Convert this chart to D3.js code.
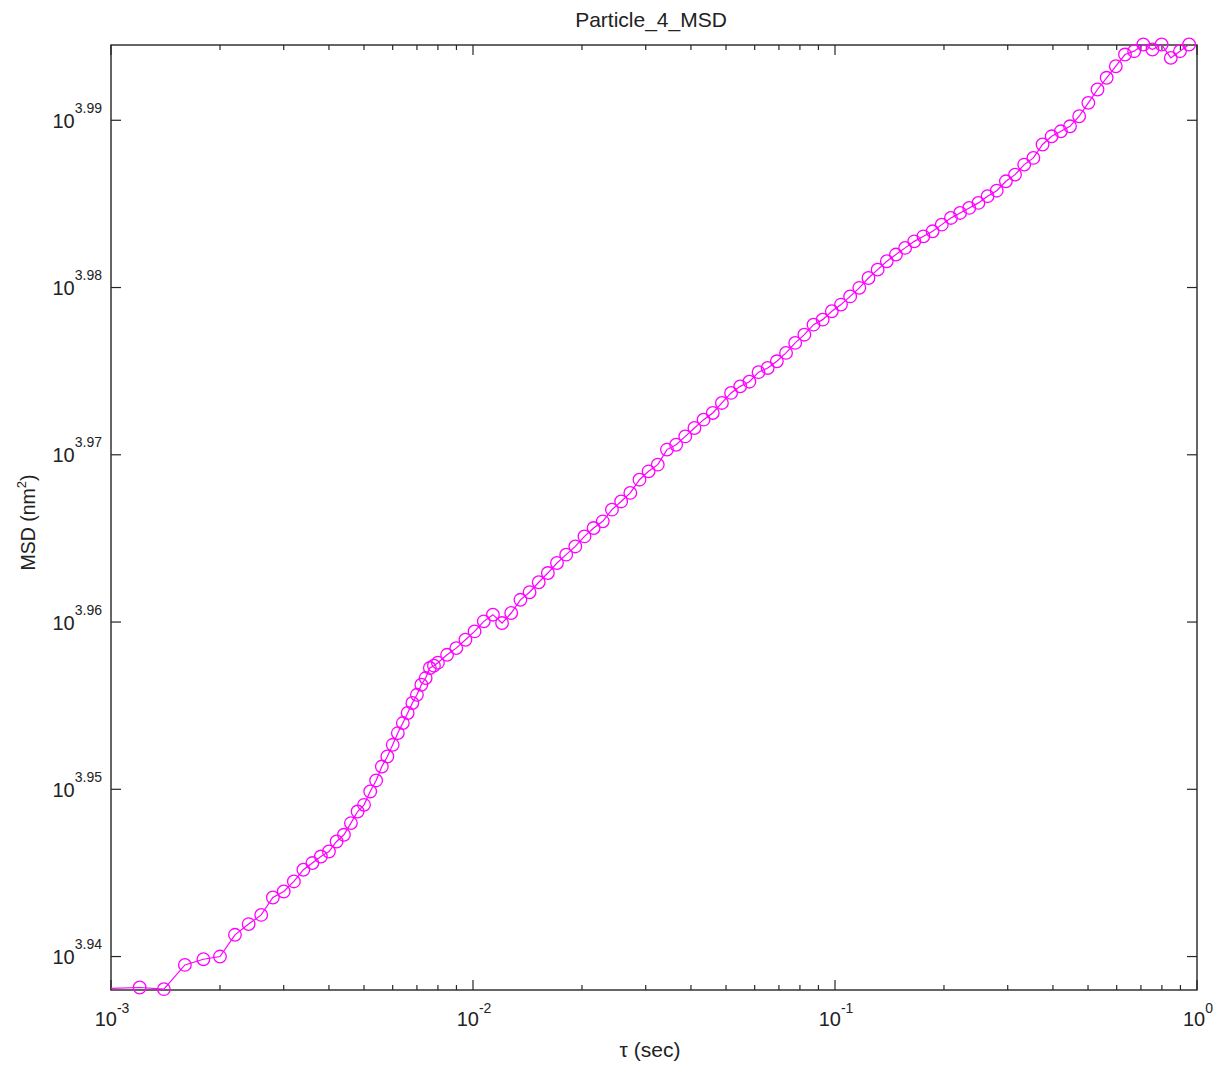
<!DOCTYPE html>
<html>
<head>
<meta charset="utf-8">
<script src="https://cdn.jsdelivr.net/npm/d3@7"></script>
<style>
  html, body { margin: 0; padding: 0; background: #fff; }
  svg { display: block; font-family: "Liberation Sans", Arial, Helvetica, sans-serif; }
</style>
</head>
<body>
<svg id="chart" width="1225" height="1066"></svg>
<script>
// ---------- data ----------
const title = "Particle_4_MSD";
const xLabel = "τ (sec)";
const yLabelMain = "MSD (nm";
const yLabelSup = "2";
const yLabelEnd = ")";

// lag times (s)
const tau = [
  0.0010, 0.0012, 0.0014, 0.0016, 0.0018, 0.0020, 0.0022, 0.0024, 0.0026, 0.0028,
  0.0030, 0.0032, 0.0034, 0.0036, 0.0038, 0.0040, 0.0042, 0.0044, 0.0046, 0.0048,
  0.0050, 0.0052, 0.0054, 0.0056, 0.0058, 0.0060, 0.0062, 0.0064, 0.0066, 0.0068,
  0.0070, 0.0072, 0.0074, 0.0076, 0.0078,
  0.00800, 0.00848, 0.00899, 0.00953, 0.01010, 0.01071, 0.01135, 0.01203, 0.01275, 0.01352,
  0.01433, 0.01519, 0.01610, 0.01706, 0.01809, 0.01917, 0.02032, 0.02154, 0.02283, 0.02420,
  0.02566, 0.02720, 0.02883, 0.03056, 0.03239, 0.03434, 0.03640, 0.03858, 0.04090, 0.04335,
  0.04595, 0.04871, 0.05163, 0.05473, 0.05801, 0.06149, 0.06518, 0.06909, 0.07324, 0.07763,
  0.08229, 0.08723, 0.09246, 0.09801, 0.10389, 0.11012, 0.11673, 0.12373, 0.13116, 0.13903,
  0.14737, 0.15621, 0.16558, 0.17552, 0.18605, 0.19721, 0.20905, 0.22159, 0.23488, 0.24898,
  0.26392, 0.27975, 0.29654, 0.31433, 0.33319, 0.35318, 0.37437, 0.39684, 0.42065, 0.44589,
  0.47264, 0.50100, 0.53106, 0.56292, 0.59670, 0.63250, 0.67045, 0.71067, 0.75331, 0.79851,
  0.84642, 0.89721, 0.95104
];

// log10 of MSD (nm^2)
const log10MSD = [
  3.93810, 3.93815, 3.93805, 3.93950, 3.93984, 3.94000, 3.94130, 3.94194, 3.94249, 3.94353,
  3.94389, 3.94449, 3.94519, 3.94559, 3.94598, 3.94628, 3.94688, 3.94728, 3.94798, 3.94867,
  3.94907, 3.94987, 3.95053, 3.95136, 3.95196, 3.95266, 3.95336, 3.95396, 3.95456, 3.95516,
  3.95565, 3.95625, 3.95665, 3.95725, 3.95739,
  3.95757, 3.95804, 3.95844, 3.95894, 3.95944, 3.96004, 3.96044, 3.95994, 3.96054, 3.96133,
  3.96178, 3.96238, 3.96293, 3.96353, 3.96403, 3.96452, 3.96512, 3.96562, 3.96602, 3.96672,
  3.96721, 3.96772, 3.96851, 3.96901, 3.96941, 3.97031, 3.97060, 3.97110, 3.97160, 3.97210,
  3.97250, 3.97310, 3.97370, 3.97409, 3.97437, 3.97494, 3.97519, 3.97559, 3.97609, 3.97669,
  3.97718, 3.97778, 3.97808, 3.97858, 3.97898, 3.97947, 3.97998, 3.98057, 3.98107, 3.98157,
  3.98197, 3.98237, 3.98276, 3.98306, 3.98336, 3.98376, 3.98416, 3.98446, 3.98476, 3.98506,
  3.98546, 3.98579, 3.98635, 3.98675, 3.98735, 3.98775, 3.98855, 3.98904, 3.98934, 3.98964,
  3.99024, 3.99104, 3.99184, 3.99254, 3.99323, 3.99393, 3.99413, 3.99453, 3.99423, 3.99453,
  3.99373, 3.99413, 3.99453
];

// axis limits and ticks
const xDomain = [1e-3, 1];
const xMajorExps = [-3, -2, -1, 0];
const xTickLabels = ["-3", "-2", "-1", "0"];
const yDomainExps = [3.938, 3.9945];
const yTickExps = [3.94, 3.95, 3.96, 3.97, 3.98, 3.99];
const yTickLabels = ["3.94", "3.95", "3.96", "3.97", "3.98", "3.99"];

// ---------- layout ----------
const L = 111, R = 1197, T = 45, B = 990;
const color = "#ff00ff";
const axisColor = "#262626";
const textColor = "#222";

const data = tau.map((t, i) => ({ tau: t, msd: Math.pow(10, log10MSD[i]) }));

const x = d3.scaleLog().domain(xDomain).range([L, R]);
const y = d3.scaleLog().domain(yDomainExps.map(e => Math.pow(10, e))).range([B, T]);

const svg = d3.select("#chart");

svg.append("defs").append("clipPath").attr("id", "plotClip")
  .append("rect").attr("x", L).attr("y", T).attr("width", R - L).attr("height", B - T);

// ---------- ticks ----------
const majorLen = 10, minorLen = 5;
const xMinor = [];
xMajorExps.slice(0, -1).forEach(e => {
  for (let m = 2; m <= 9; m++) xMinor.push(m * Math.pow(10, e));
});
const xMajor = xMajorExps.map(e => Math.pow(10, e));

const tickG = svg.append("g").attr("stroke", axisColor).attr("stroke-width", 1.2);
xMajor.forEach(v => {
  const px = x(v);
  tickG.append("line").attr("x1", px).attr("x2", px).attr("y1", B).attr("y2", B - majorLen);
  tickG.append("line").attr("x1", px).attr("x2", px).attr("y1", T).attr("y2", T + majorLen);
});
xMinor.forEach(v => {
  const px = x(v);
  tickG.append("line").attr("x1", px).attr("x2", px).attr("y1", B).attr("y2", B - minorLen);
  tickG.append("line").attr("x1", px).attr("x2", px).attr("y1", T).attr("y2", T + minorLen);
});
yTickExps.forEach(e => {
  const py = y(Math.pow(10, e));
  tickG.append("line").attr("x1", L).attr("x2", L + majorLen).attr("y1", py).attr("y2", py);
  tickG.append("line").attr("x1", R).attr("x2", R - majorLen).attr("y1", py).attr("y2", py);
});

// box
svg.append("rect").attr("x", L).attr("y", T).attr("width", R - L).attr("height", B - T)
  .attr("fill", "none").attr("stroke", axisColor).attr("stroke-width", 1.4);

// ---------- tick labels ----------
const labG = svg.append("g").attr("fill", textColor);
xMajorExps.forEach((e, i) => {
  const t = labG.append("text").attr("x", x(Math.pow(10, e)) + 1).attr("y", 1026)
    .attr("text-anchor", "middle");
  t.append("tspan").attr("font-size", 20).text("10");
  t.append("tspan").attr("font-size", 14).attr("dy", -13).text(xTickLabels[i]);
});
yTickExps.forEach((e, i) => {
  const py = y(Math.pow(10, e));
  const t = labG.append("text").attr("x", 102).attr("y", py + 7.5)
    .attr("text-anchor", "end");
  t.append("tspan").attr("font-size", 20).text("10");
  t.append("tspan").attr("font-size", 14).attr("dy", -15).text(yTickLabels[i]);
});

// ---------- titles ----------
svg.append("text").attr("x", (L + R) / 2 - 3).attr("y", 27).attr("text-anchor", "middle")
  .attr("font-size", 21).attr("fill", textColor).text(title);
svg.append("text").attr("x", (L + R) / 2 - 4).attr("y", 1057).attr("text-anchor", "middle")
  .attr("font-size", 21).attr("fill", textColor).text(xLabel);
const yl = svg.append("text").attr("transform", `translate(35, ${(T + B) / 2 + 5}) rotate(-90)`)
  .attr("text-anchor", "middle").attr("fill", textColor);
yl.append("tspan").attr("font-size", 19.5).text(yLabelMain);
yl.append("tspan").attr("font-size", 13).attr("dy", -9).text(yLabelSup);
yl.append("tspan").attr("font-size", 19.5).attr("dy", 9).text(yLabelEnd);

// ---------- series ----------
const line = d3.line().x(d => x(d.tau)).y(d => y(d.msd));
svg.append("path").datum(data)
  .attr("clip-path", "url(#plotClip)")
  .attr("d", line).attr("fill", "none").attr("stroke", color).attr("stroke-width", 1.2);

// markers only for points strictly inside the x-limits (as in the source plot)
svg.append("g").selectAll("circle")
  .data(data.filter(d => d.tau > xDomain[0] && d.tau <= xDomain[1]))
  .join("circle")
  .attr("cx", d => x(d.tau)).attr("cy", d => y(d.msd)).attr("r", 6.3)
  .attr("fill", "none").attr("stroke", color).attr("stroke-width", 1.3);
</script>
</body>
</html>
